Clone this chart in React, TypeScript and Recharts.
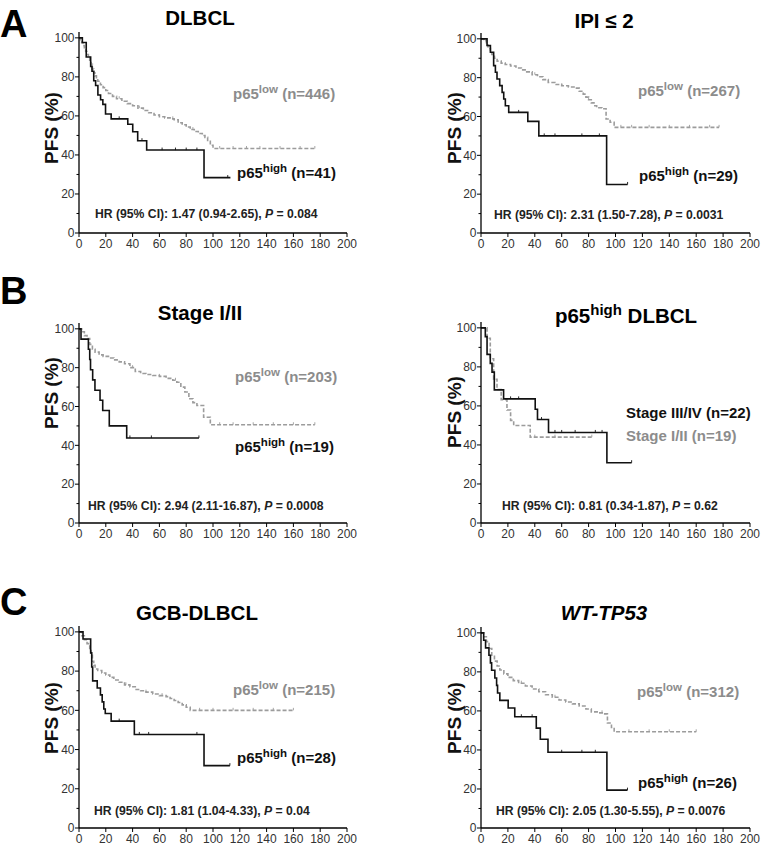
import React from "react";
import { LineChart, Line, XAxis, YAxis } from "recharts";

const FONT = "'Liberation Sans', Arial, Helvetica, sans-serif";
const BLACK = "#111111";
const GREY = "#9c9c9c";
const GREY_TEXT = "#8c8c8c";

const xTicks = [0, 20, 40, 60, 80, 100, 120, 140, 160, 180, 200];
const yTicks = [0, 10, 20, 30, 40, 50, 60, 70, 80, 90, 100];

// months / PFS (%); *C = censored times

// A: DLBCL
const dlbclHighT = [0, 2.5, 5.4, 8.7, 9.7, 11, 12.4, 14.1, 16.1, 17.8, 19.8, 24, 36.4, 40.1, 43.8, 50.5, 93.3, 113];
const dlbclHighS = [100, 97.6, 90.2, 85.4, 82.9, 78, 75.6, 70.7, 68.3, 65.9, 61, 58.5, 55.7, 51.9, 47.3, 42.5, 28.4, 28.4];
const dlbclHighC = [30, 47, 62, 72, 80, 88, 111];
const dlbclLowT = [0, 1, 2, 3, 4, 5, 6, 7, 8, 9, 10, 11, 12, 13, 14, 16, 18, 20, 22, 25, 28, 32, 36, 40, 44, 48, 52, 56, 60, 64, 68, 71, 74, 77, 80, 83, 86, 89, 92, 94, 96, 98, 100, 176];
const dlbclLowS = [100, 99, 97.5, 96, 94.5, 93, 91.5, 90, 88.5, 86.5, 84, 82, 80.5, 79, 77.8, 76, 74.5, 73, 71.5, 70, 68.8, 67.5, 66.3, 65.2, 64, 62.8, 61.6, 60.5, 59.6, 59, 58.5, 58, 56.5, 55.5, 54.3, 53, 52, 51, 50, 49, 47, 45, 43.3, 43.3];
const dlbclLowC = [30, 45, 60, 70, 85, 105, 115, 125, 135, 150, 165, 176];

// A: IPI <= 2
const ipiHighT = [0, 4.5, 7, 9.4, 10.7, 11.9, 13.9, 15.7, 16.9, 18.1, 20.6, 34.8, 43, 93.4, 109];
const ipiHighS = [100, 96.6, 93.1, 86.2, 82.8, 79.3, 75.9, 72.4, 69, 65.5, 62.1, 57.5, 50, 25, 25];
const ipiHighC = [28, 47, 55, 75, 88, 109];
const ipiLowT = [0, 2, 4, 5, 6, 7, 8, 9, 10, 12, 15, 18, 22, 26, 30, 34, 38, 42, 46, 50, 55, 60, 65, 70, 73, 76, 78, 80, 82, 84, 86, 90, 93, 96, 99, 177];
const ipiLowS = [100, 99, 97.5, 96, 95, 93.5, 92, 91, 90, 88.5, 87.5, 86.8, 86, 85, 84, 83, 81.5, 80.5, 79, 77.5, 76.5, 75.8, 75.2, 74.6, 73, 71.5, 70, 68.6, 67, 65.5, 64.5, 64, 58.7, 57, 54.4, 54.4];
const ipiLowC = [40, 60, 80, 104, 112, 125, 140, 155, 170, 177];

// B: Stage I/II
const stageHighT = [0, 1.5, 7, 8, 8.6, 10.2, 11.9, 15.7, 17.7, 22.6, 35.6, 89.5];
const stageHighS = [100, 94.7, 89.5, 84.2, 78.9, 73.7, 68.4, 63.2, 57.9, 50, 43.8, 43.8];
const stageHighC = [38, 54, 89.5];
const stageLowT = [0, 2, 4, 6, 8, 10, 12, 15, 18, 22, 26, 30, 34, 38, 42, 46, 50, 55, 60, 65, 70, 73, 76, 79, 82, 85, 88, 93, 98, 176];
const stageLowS = [100, 98.5, 96.5, 95, 92, 89.5, 88, 86.6, 85.8, 85, 84, 83, 82, 80, 78, 77, 76.5, 76, 75.5, 74.5, 73.5, 72.5, 70, 67.5, 64, 62, 60.5, 54.5, 50.6, 50.6];
const stageLowC = [40, 60, 72, 105, 115, 130, 145, 160, 176];

// B: p65high DLBCL, by stage
const advancedT = [0, 3.2, 4.5, 6.9, 8.2, 9.9, 16.8, 40.3, 42, 50.2, 93.6, 112];
const advancedS = [100, 95.5, 86.4, 81.8, 77.3, 68.2, 63.6, 58.3, 53, 46.4, 30.9, 30.9];
const advancedC = [22, 28, 45, 55, 60, 70, 85, 90, 112];
const earlyT = [0, 4.5, 6.9, 9.4, 11.9, 15, 19.3, 22, 24.3, 36.6, 82.4];
const earlyS = [100, 94.7, 84.2, 73.7, 68.4, 63.2, 57.9, 52.6, 50, 44, 44];
const earlyC = [40, 55, 82.4];

// C: GCB-DLBCL
const gcbHighT = [0, 3, 8.7, 9.5, 10.2, 13.6, 16, 17.3, 18.5, 19.6, 24, 41.3, 93.3, 112.6];
const gcbHighS = [100, 96.4, 89.3, 82.1, 75, 71.4, 67.9, 64.3, 60.7, 58.4, 54.5, 47.7, 31.8, 31.8];
const gcbHighC = [30, 45, 52, 88, 112.6];
const gcbLowT = [0, 2, 4, 6, 8, 9, 10, 11, 12, 14, 17, 20, 23, 26, 30, 34, 38, 42, 46, 50, 55, 60, 65, 68, 71, 74, 77, 80, 83, 160];
const gcbLowS = [100, 98, 96, 94, 91, 88, 85, 83, 81.1, 80.3, 79, 78, 76.8, 75.5, 74.3, 73, 72, 70.6, 70, 69.3, 68.3, 67.5, 67, 66, 65, 64, 62.8, 61.6, 60, 60];
const gcbLowC = [35, 50, 62, 90, 100, 115, 130, 145, 160];

// C: WT-TP53
const wtHighT = [0, 2, 3.4, 5.9, 7, 7.9, 10.3, 11.6, 12.3, 14, 20.2, 25.1, 41.1, 44.1, 49.8, 93.6, 108.9];
const wtHighS = [100, 96.2, 92.3, 88.5, 84.6, 80.8, 76.9, 73.1, 69.2, 65.4, 61.5, 57, 51.2, 45.5, 38.8, 19.4, 19.4];
const wtHighC = [30, 38, 60, 75, 85, 108.9];
const wtLowT = [0, 2, 4, 6, 8, 10, 12, 14, 17, 20, 24, 28, 33, 38, 43, 48, 53, 58, 63, 68, 73, 78, 82, 87, 92, 94, 97, 99, 160];
const wtLowS = [100, 98, 95.5, 92, 88.5, 85.5, 83, 81, 79, 77.2, 75.5, 74.2, 72.8, 71.2, 69.8, 68.3, 67, 65.6, 64.6, 63.6, 62.5, 61, 59.5, 59, 58.5, 53.8, 51.5, 49.3, 49.3];
const wtLowC = [30, 55, 90, 110, 125, 140, 160];

// merge step points and censor marks into one list for a stepAfter line
function kmPoints(t: number[], s: number[], cens: number[]) {
  const pts = t.map((x, i) => ({ t: x, s: s[i], c: false }));
  cens.forEach((x) => {
    let v = s[0];
    t.forEach((tt, i) => {
      if (tt <= x) v = s[i];
    });
    pts.push({ t: x, s: v, c: true });
  });
  return pts.sort((a, b) => a.t - b.t);
}

const YTick = (props: any) => {
  const { x, y, payload } = props;
  const major = payload.value % 20 === 0;
  return (
    <g>
      <line x1={x - (major ? 4 : 2.5)} x2={x} y1={y} y2={y} stroke="#000" strokeWidth={1} />
      {major ? (
        <text x={x - 4.5} y={y + 4.2} textAnchor="end" fontSize={12} fill="#333" fontFamily={FONT}>
          {payload.value}
        </text>
      ) : null}
    </g>
  );
};

function censorMark(p: any, color: string) {
  const { cx, cy, payload, index } = p;
  if (!payload || !payload.c || cx == null) return <g key={"n" + index} />;
  return <line key={"c" + index} x1={cx} x2={cx} y1={cy - 2.5} y2={cy} stroke={color} strokeWidth={0.9} />;
}

type Series = { pts: { t: number; s: number; c: boolean }[]; color: string; dashed: boolean };

const KmPanel = ({ left, width, y0, y100, series }: { left: number; width: number; y0: number; y100: number; series: Series[] }) => {
  const plotH = Math.round((y0 - y100) * 1.03);
  const top = y0 - plotH;
  return (
    <div style={{ position: "absolute", left: left - 45, top: top - 5 }}>
      <LineChart width={45 + width + 12} height={5 + plotH + 30} margin={{ top: 5, right: 12, bottom: 0, left: 0 }}>
        <XAxis
          type="number"
          dataKey="t"
          domain={[0, 200]}
          ticks={xTicks}
          interval={0}
          allowDataOverflow
          height={30}
          axisLine={{ stroke: "#000", strokeWidth: 1.3 }}
          tickLine={{ stroke: "#000" }}
          tickSize={4}
          tickMargin={2}
          tick={{ fontSize: 12, fill: "#333", fontFamily: FONT }}
        />
        <YAxis
          type="number"
          domain={[0, 103]}
          ticks={yTicks}
          interval={0}
          allowDataOverflow
          width={45}
          axisLine={{ stroke: "#000", strokeWidth: 1.3 }}
          tickLine={false}
          tickSize={0}
          tickMargin={0}
          tick={YTick}
        />
        {series.map((s, i) => (
          <Line
            key={i}
            data={s.pts}
            dataKey="s"
            type="stepAfter"
            stroke={s.color}
            strokeWidth={1.6}
            strokeDasharray={s.dashed ? "4 2" : undefined}
            dot={(p: any) => censorMark(p, s.color)}
            activeDot={false}
            isAnimationActive={false}
          />
        ))}
      </LineChart>
    </div>
  );
};

const pair = (lowT: number[], lowS: number[], lowC: number[], highT: number[], highS: number[], highC: number[]): Series[] => [
  { pts: kmPoints(lowT, lowS, lowC), color: GREY, dashed: true },
  { pts: kmPoints(highT, highS, highC), color: BLACK, dashed: false },
];

const panels = [
  { left: 79, width: 268, y0: 233, y100: 38, series: pair(dlbclLowT, dlbclLowS, dlbclLowC, dlbclHighT, dlbclHighS, dlbclHighC) },
  { left: 481, width: 269, y0: 233, y100: 39, series: pair(ipiLowT, ipiLowS, ipiLowC, ipiHighT, ipiHighS, ipiHighC) },
  { left: 79, width: 268, y0: 523, y100: 329, series: pair(stageLowT, stageLowS, stageLowC, stageHighT, stageHighS, stageHighC) },
  { left: 481, width: 269, y0: 523, y100: 328, series: pair(earlyT, earlyS, earlyC, advancedT, advancedS, advancedC) },
  { left: 79, width: 268, y0: 828, y100: 632, series: pair(gcbLowT, gcbLowS, gcbLowC, gcbHighT, gcbHighS, gcbHighC) },
  { left: 481, width: 269, y0: 828, y100: 633, series: pair(wtLowT, wtLowS, wtLowC, wtHighT, wtHighS, wtHighC) },
];

const Sup = ({ x, y, base, sup, rest, fill, size = 15, supSize = 11.5 }: any) => (
  <text x={x} y={y} fill={fill} fontSize={size}>
    <tspan>{base}</tspan>
    <tspan fontSize={supSize} dy={-6}>{sup}</tspan>
    <tspan dy={6}>{rest}</tspan>
  </text>
);

const Hr = ({ x, y, text, p }: { x: number; y: number; text: string; p: string }) => (
  <text x={x} y={y} fontSize={12.2} fill="#222">
    {text}
    <tspan fontStyle="italic">P</tspan>
    {" = " + p}
  </text>
);

const Pfs = ({ x, y }: { x: number; y: number }) => (
  <text transform={`translate(${x},${y}) rotate(-90)`} textAnchor="middle" fontSize={19} fill="#111">
    PFS (%)
  </text>
);

export default function App() {
  return (
    <div style={{ position: "absolute", left: 0, top: 0, width: 782, height: 851, background: "#fff", overflow: "hidden" }}>
      {panels.map((p, i) => (
        <KmPanel key={i} {...p} />
      ))}
      <svg
        width={782}
        height={851}
        style={{ position: "absolute", left: 0, top: 0, pointerEvents: "none" }}
        fontFamily={FONT}
        fontWeight="bold"
      >
        <text x={0} y={37} fontSize={38} fill="#000">A</text>
        <text x={0} y={304} fontSize={38} fill="#000">B</text>
        <text x={0} y={615} fontSize={38} fill="#000">C</text>

        <text x={200} y={25} fontSize={20.5} textAnchor="middle" fill="#000">DLBCL</text>
        <text x={604} y={28} fontSize={20.5} textAnchor="middle" fill="#000">IPI ≤ 2</text>
        <text x={200} y={320} fontSize={20.5} textAnchor="middle" fill="#000">Stage I/II</text>
        <text x={626} y={323} fontSize={20.5} textAnchor="middle" fill="#000">
          <tspan>p65</tspan>
          <tspan fontSize={15} dy={-8}>high</tspan>
          <tspan dy={8}>{" DLBCL"}</tspan>
        </text>
        <text x={197} y={620} fontSize={20.5} textAnchor="middle" fill="#000">GCB-DLBCL</text>
        <text x={604} y={620} fontSize={20.5} textAnchor="middle" fontStyle="italic" fill="#000">WT-TP53</text>

        <Pfs x={58} y={128} />
        <Pfs x={461} y={128} />
        <Pfs x={58} y={393} />
        <Pfs x={461} y={412} />
        <Pfs x={58} y={718} />
        <Pfs x={461} y={718} />

        <Sup x={233} y={99} base="p65" sup="low" rest=" (n=446)" fill={GREY_TEXT} />
        <Sup x={237} y={178} base="p65" sup="high" rest=" (n=41)" fill="#111" />
        <Sup x={638} y={96} base="p65" sup="low" rest=" (n=267)" fill={GREY_TEXT} />
        <Sup x={639} y={181} base="p65" sup="high" rest=" (n=29)" fill="#111" />
        <Sup x={235} y={382} base="p65" sup="low" rest=" (n=203)" fill={GREY_TEXT} />
        <Sup x={235} y={452} base="p65" sup="high" rest=" (n=19)" fill="#111" />
        <text x={626} y={418} fontSize={15} fill="#111">Stage III/IV (n=22)</text>
        <text x={626} y={441} fontSize={15} fill={GREY_TEXT}>Stage I/II (n=19)</text>
        <Sup x={233} y={695} base="p65" sup="low" rest=" (n=215)" fill={GREY_TEXT} />
        <Sup x={237} y={763} base="p65" sup="high" rest=" (n=28)" fill="#111" />
        <Sup x={637} y={697} base="p65" sup="low" rest=" (n=312)" fill={GREY_TEXT} />
        <Sup x={638} y={788} base="p65" sup="high" rest=" (n=26)" fill="#111" />

        <Hr x={95} y={218} text="HR (95% CI): 1.47 (0.94-2.65), " p="0.084" />
        <Hr x={494} y={219} text="HR (95% CI): 2.31 (1.50-7.28), " p="0.0031" />
        <Hr x={88} y={510} text="HR (95% CI): 2.94 (2.11-16.87), " p="0.0008" />
        <Hr x={502} y={510} text="HR (95% CI): 0.81 (0.34-1.87), " p="0.62" />
        <Hr x={94} y={815} text="HR (95% CI): 1.81 (1.04-4.33), " p="0.04" />
        <Hr x={496} y={815} text="HR (95% CI): 2.05 (1.30-5.55), " p="0.0076" />
      </svg>
    </div>
  );
}
